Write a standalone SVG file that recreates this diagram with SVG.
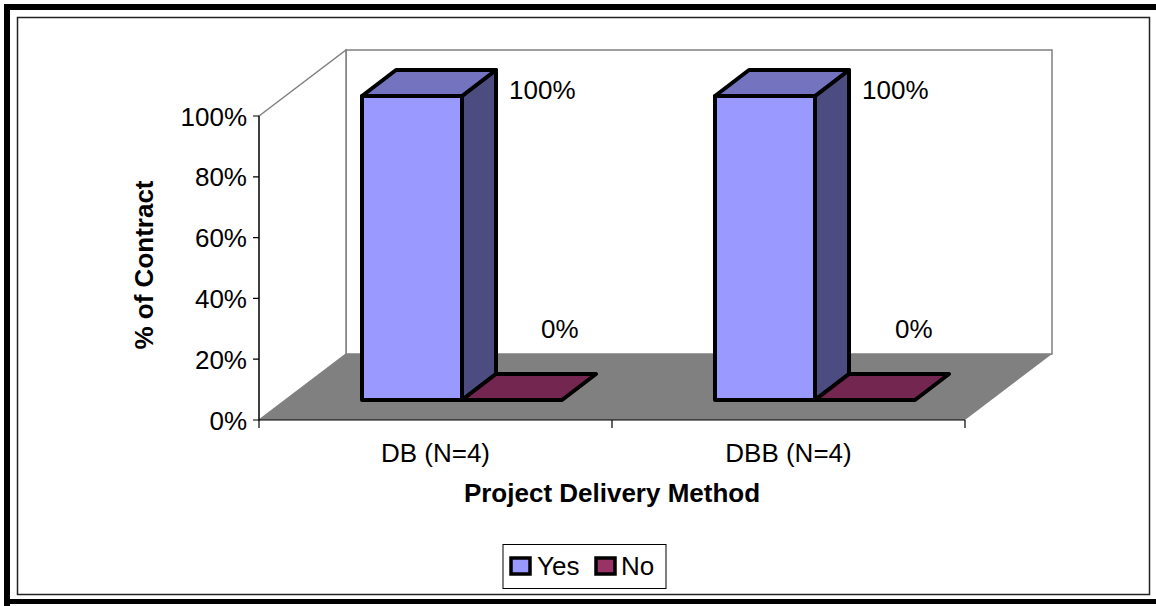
<svg xmlns="http://www.w3.org/2000/svg" width="1156" height="606" viewBox="0 0 1156 606">
  <style>
    text { font-family: "Liberation Sans", Arial, sans-serif; fill: #000; }
    .lbl { font-size: 26px; }
    .ttl { font-size: 26px; font-weight: bold; }
    .wall { fill: #fff; stroke: #808080; stroke-width: 1.5; }
    .axis { fill: none; stroke: #000; stroke-width: 1.2; }
    .bar { stroke: #000; stroke-width: 4; stroke-linejoin: round; }
    .yes-front { fill: #9999FF; }
    .yes-top { fill: #7373C0; }
    .yes-side { fill: #4C4C80; }
    .no-top { fill: #732650; }
  </style>

  <!-- page frame -->
  <rect x="0" y="0" width="1156" height="606" fill="#fff"/>
  <path d="M7,606 V7 H1156" fill="none" stroke="#000" stroke-width="6"/>
  <line x1="4" y1="601.5" x2="1156" y2="601.5" stroke="#000" stroke-width="5"/>
  <rect x="17.5" y="17.5" width="1132" height="577" fill="#fff" stroke="#222" stroke-width="1.5"/>

  <!-- plot area: walls and floor -->
  <g id="walls">
    <polygon class="wall" points="346,50 1052,50 1052,354 346,354"/>
    <polygon class="wall" points="259,116 346,50 346,354 259,420"/>
    <polygon points="259,420 346,354 1052,354 965,420" fill="#808080"/>
  </g>

  <!-- axes and ticks -->
  <g id="axes">
    <path class="axis" d="M259,116 V420 H965"/>
    <path class="axis" d="M253,116 H259 M253,176.8 H259 M253,237.6 H259 M253,298.4 H259 M253,359.2 H259 M253,420 H259"/>
    <path class="axis" d="M259,420 V428 M612,420 V428 M965,420 V428"/>
  </g>

  <!-- value axis labels -->
  <g id="y-labels" class="lbl" text-anchor="end">
    <text x="247" y="125.5">100%</text>
    <text x="247" y="186.3">80%</text>
    <text x="247" y="247.1">60%</text>
    <text x="247" y="307.9">40%</text>
    <text x="247" y="368.7">20%</text>
    <text x="247" y="429.5">0%</text>
  </g>
  <text id="y-title" class="ttl" text-anchor="middle" transform="translate(153,265) rotate(-90)">% of Contract</text>

  <!-- category labels -->
  <g id="x-labels" class="lbl" text-anchor="middle">
    <text x="435.5" y="462">DB (N=4)</text>
    <text x="788.5" y="462">DBB (N=4)</text>
  </g>
  <text id="x-title" class="ttl" x="612" y="502" text-anchor="middle">Project Delivery Method</text>

  <!-- DB: Yes = 100% -->
  <g id="bar-db-yes" class="bar">
    <polygon class="yes-side" points="462,96 496,70 496,374 462,400"/>
    <polygon class="yes-top" points="362,96 396,70 496,70 462,96"/>
    <rect class="yes-front" x="362" y="96" width="100" height="304"/>
  </g>
  <!-- DB: No = 0% -->
  <g id="bar-db-no" class="bar">
    <polygon class="no-top" points="462,400 562,400 596,374 496,374"/>
  </g>

  <!-- DBB: Yes = 100% -->
  <g id="bar-dbb-yes" class="bar">
    <polygon class="yes-side" points="815,96 849,70 849,374 815,400"/>
    <polygon class="yes-top" points="715,96 749,70 849,70 815,96"/>
    <rect class="yes-front" x="715" y="96" width="100" height="304"/>
  </g>
  <!-- DBB: No = 0% -->
  <g id="bar-dbb-no" class="bar">
    <polygon class="no-top" points="815,400 915,400 949,374 849,374"/>
  </g>

  <!-- data labels -->
  <g id="data-labels" class="lbl">
    <text x="509" y="99">100%</text>
    <text x="541" y="338">0%</text>
    <text x="862" y="99">100%</text>
    <text x="895" y="338">0%</text>
  </g>

  <!-- legend -->
  <g id="legend">
    <rect x="503" y="544.5" width="163" height="44" fill="#fff" stroke="#000" stroke-width="1"/>
    <rect x="511" y="558" width="19" height="16" fill="#9999FF" stroke="#000" stroke-width="3.5"/>
    <text class="lbl" x="537" y="575">Yes</text>
    <rect x="596" y="558" width="19" height="16" fill="#993366" stroke="#000" stroke-width="3.5"/>
    <text class="lbl" x="621" y="575">No</text>
  </g>
</svg>
